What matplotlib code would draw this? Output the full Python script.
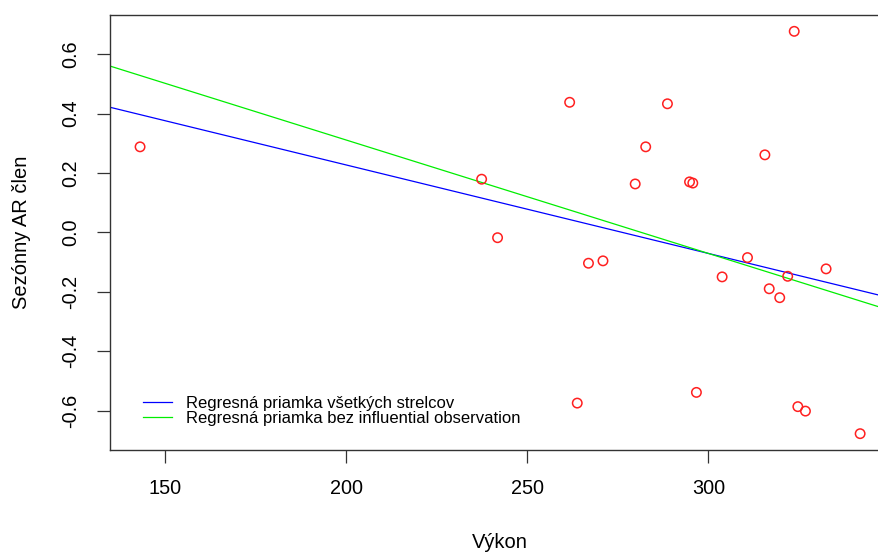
import numpy as np
import matplotlib.pyplot as plt

plt.rcParams['font.family'] = ['Liberation Sans', 'DejaVu Sans']

# data
vykon = [143.1, 237.4, 241.8, 261.7, 266.9, 270.9, 263.8, 279.8, 282.7, 288.7,
         294.8, 295.7, 296.7, 303.8, 310.8, 315.6, 316.8, 319.7, 321.9, 323.7,
         324.7, 326.8, 332.5, 341.9]
ar_clen = [0.288, 0.179, -0.018, 0.438, -0.104, -0.096, -0.575, 0.163, 0.288, 0.433,
           0.170, 0.166, -0.539, -0.150, -0.085, 0.261, -0.190, -0.220, -0.148, 0.677,
           -0.587, -0.602, -0.123, -0.678]

# regression lines (intercept, slope)
fit_all = (0.823, -0.00298)
fit_bez = (1.075, -0.00382)

legend_labels = ["Regresná priamka všetkých strelcov",
                 "Regresná priamka bez influential observation"]
xticks = [150, 200, 250, 300]
yticks = [-0.6, -0.4, -0.2, 0.0, 0.2, 0.4, 0.6]

W, H = 879, 552
fig = plt.figure(figsize=(W / 100, H / 100), dpi=100)
ax = fig.add_axes([110 / W, (H - 449.7) / H, 780.2 / W, 434.7 / H])

ax.scatter(vykon, ar_clen, s=46, facecolors='none', edgecolors='#ff2020',
           linewidths=1.1, zorder=3)
ax.axline((0, fit_all[0]), slope=fit_all[1], color='#0000ff', lw=0.9,
          label=legend_labels[0])
ax.axline((0, fit_bez[0]), slope=fit_bez[1], color='#00ee00', lw=0.9,
          label=legend_labels[1])

ax.set_xlim(134.8, 350.2)
ax.set_ylim(-0.732, 0.732)
ax.set_xticks(xticks)
ax.set_xticklabels([str(v) for v in xticks])
ax.set_yticks(yticks)
ax.set_yticklabels(["%.1f" % v for v in yticks])

for sp in ax.spines.values():
    sp.set_color('#333333')
    sp.set_linewidth(1.0)
ax.tick_params(axis='both', direction='out', length=9.2, width=0.9,
               color='#333333', labelsize=14.3, pad=12)
ax.tick_params(axis='y', labelrotation=90)
for lab in ax.get_yticklabels():
    lab.set_va('center')

fig.text(500 / W, 1 - 543 / H, "Výkon", ha='center', va='center', fontsize=14.5)
fig.text(22 / W, 1 - 232 / H, "Sezónny AR člen", ha='center', va='center',
         rotation=90, fontsize=14.5)

ax.legend(loc='lower left', bbox_to_anchor=(0.042, 0.055), frameon=False,
          fontsize=12.0, handlelength=1.75, handletextpad=0.85,
          labelspacing=0.0, borderpad=0, borderaxespad=0)

fig.savefig('out.png', dpi=100)
